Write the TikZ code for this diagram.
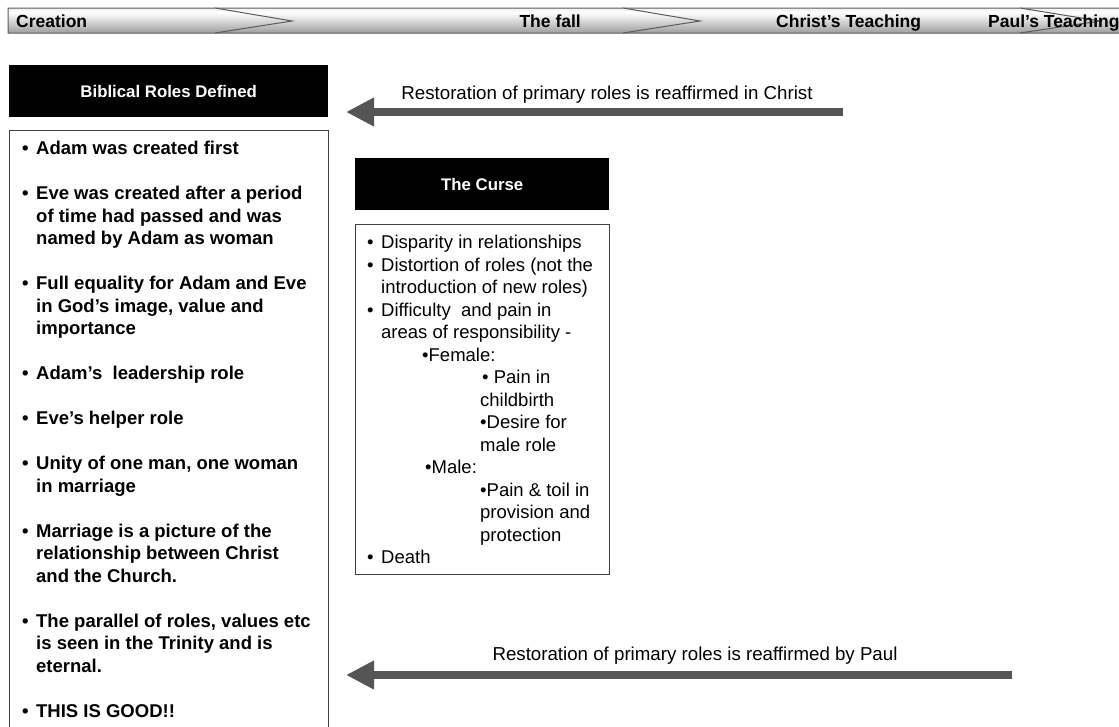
\documentclass[tikz,border=0pt]{standalone}
\usepackage{fontspec}
\setmainfont{Liberation Sans}
\usetikzlibrary{positioning, arrows.meta}
\definecolor{arrowgray}{HTML}{555555}
\definecolor{framegray}{HTML}{404040}
\definecolor{bardark}{HTML}{5A5A5A}
\pgfdeclareverticalshading{barshade}{100bp}{color(0bp)=(black!55); color(25bp)=(black!38); color(66bp)=(white); color(86bp)=(black!14); color(100bp)=(black!40)}
\newcommand{\itemdot}{\makebox[14pt][l]{•}}
\newcommand{\itemcont}{\hspace*{14pt}}

\begin{document}
\begin{tikzpicture}[x=1pt, y=-1pt,
  hdr/.style={fill=black, text=white, inner sep=0pt, anchor=north west,
              minimum height=52pt, font=\fontsize{16.8}{19}\selectfont\bfseries},
  frame/.style={draw=framegray, line width=1.2pt, inner sep=0pt, anchor=north west},
  listtext/.style={anchor=north west, inner sep=0pt, align=left},
  barseg/.style={shading=barshade, draw=bardark, line width=1pt},
  bartext/.style={inner sep=0pt, anchor=base west, font=\fontsize{17.5}{20}\selectfont\bfseries},
  arr/.style={-{Triangle[length=28pt, width=27pt]}, line width=7.5pt, draw=arrowgray},
  arrlabel/.style={inner sep=0pt, font=\fontsize{18.7}{22}\selectfont},
]
\useasboundingbox (0,0) rectangle (1119,726);
% Timeline bar
\shadedraw[barseg] (1020,8) -- (1160,8) -- (1190,21) -- (1160,33) -- (1020,33) -- cycle;
\shadedraw[barseg] (623,8) -- (1020,8) -- (1100,21) -- (1020,33) -- (623,33) -- cycle;
\shadedraw[barseg] (215,8) -- (623,8) -- (700,21) -- (623,33) -- (215,33) -- cycle;
\shadedraw[barseg] (8,8) -- (215,8) -- (292,21) -- (215,33) -- (8,33) -- cycle;
\node[bartext] (creation) at (16,27.5) {Creation};
\node[bartext, anchor=base east] (fall) at (581,27.5) {The fall};
\node[bartext] (christ) at (776,27.5) {Christ’s Teaching};
\node[bartext] (paul)   at (988,27.5) {Paul’s Teaching};
% Left column
\node[hdr, minimum width=319pt] (roleshdr) at (9,65) {Biblical Roles Defined};
\node[frame, minimum width=319pt, minimum height=630pt] (rolesbox) at (9,130) {};
\node[listtext, font=\fontsize{18.5}{22.5}\selectfont\bfseries] (rolestext)
  at ([xshift=13pt, yshift=-11pt]rolesbox.north west) {%
\itemdot Adam was created first\\[22.5pt]
\itemdot Eve was created after a period\\
\itemcont of time had passed and was\\
\itemcont named by Adam as woman\\[22.5pt]
\itemdot Full equality for Adam and Eve\\
\itemcont in God’s image, value and\\
\itemcont importance\\[22.5pt]
\itemdot Adam’s~ leadership role\\[22.5pt]
\itemdot Eve’s helper role\\[22.5pt]
\itemdot Unity of one man, one woman\\
\itemcont in marriage\\[22.5pt]
\itemdot Marriage is a picture of the\\
\itemcont relationship between Christ\\
\itemcont and the Church.\\[22.5pt]
\itemdot The parallel of roles, values etc\\
\itemcont is seen in the Trinity and is\\
\itemcont eternal.\\[22.5pt]
\itemdot THIS IS GOOD!!};
% Middle column
\node[hdr, minimum width=254pt] (cursehdr) at (355,158) {The Curse};
\node[frame, minimum width=254pt, minimum height=350pt] (cursebox) at (355,224) {};
\node[listtext, font=\fontsize{18.5}{22.5}\selectfont] (cursetext)
  at ([xshift=12pt, yshift=-11pt]cursebox.north west) {%
\itemdot Disparity in relationships\\
\itemdot Distortion of roles (not the\\
\itemcont introduction of new roles)\\
\itemdot Difficulty~ and pain in\\
\itemcont areas of responsibility -\\
\hspace*{55pt}•Female:\\
\hspace*{115pt}• Pain in\\
\hspace*{113pt}childbirth\\
\hspace*{113pt}•Desire for\\
\hspace*{113pt}male role\\
\hspace*{58pt}•Male:\\
\hspace*{113pt}•Pain \& toil in\\
\hspace*{113pt}provision and\\
\hspace*{113pt}protection\\
\itemdot Death};
% Restoration arrows
\coordinate (chrtail)  at (843,112);
\coordinate (chrtip)   at (346,112);
\coordinate (paultail) at (1012,675);
\coordinate (paultip)  at (346,675);
\draw[arr] (chrtail) -- (chrtip);
\draw[arr] (paultail) -- (paultip);
\node[arrlabel] (chrlabel)  at (607,95)  {Restoration of primary roles is reaffirmed in Christ};
\node[arrlabel] (paullabel) at (695,656) {Restoration of primary roles is reaffirmed by Paul};
\end{tikzpicture}
\end{document}
